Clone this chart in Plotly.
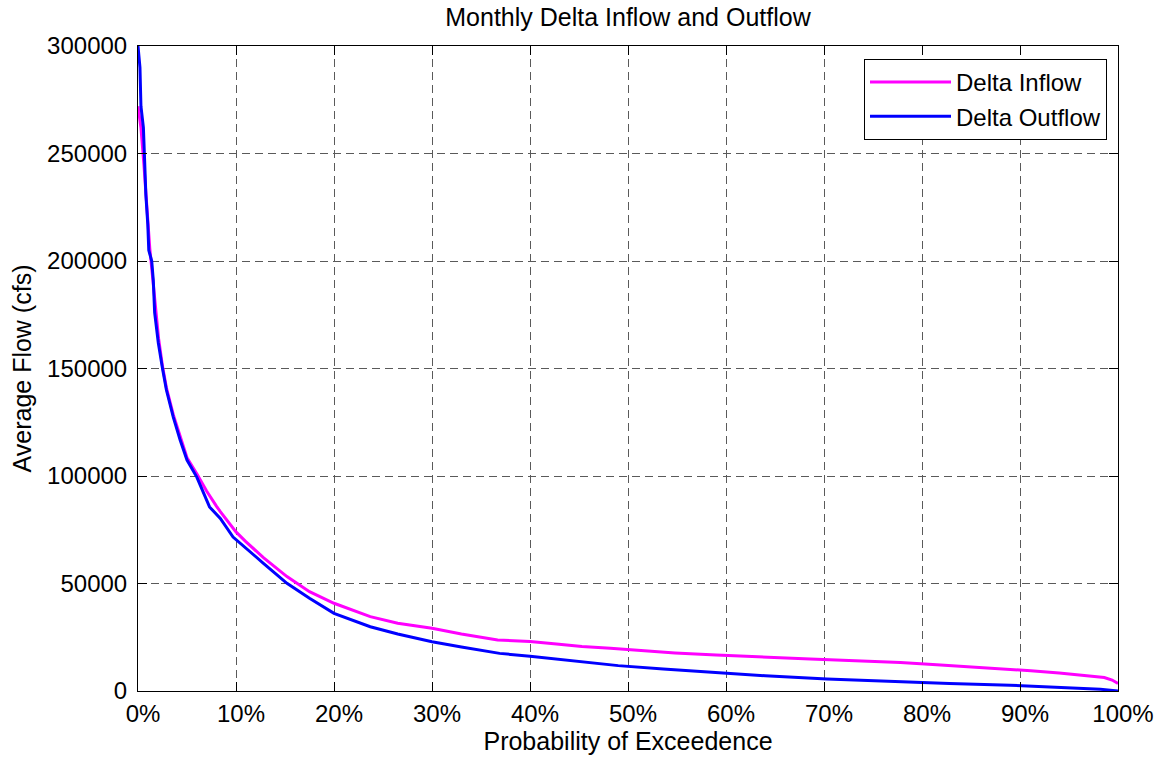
import plotly.graph_objects as go

# Probability of exceedence (%) and average flow (cfs)
inflow_pct = [0, 0.3, 0.6, 0.8, 1.0, 1.2, 1.5, 1.8, 2.1, 2.5, 2.9, 3.6, 4.3, 5.0, 6.0, 7.0,
              8.0, 8.4, 10, 11, 12.8, 15.2, 17.5, 20, 23.7, 26.5, 30, 33, 36.7, 40, 42.7,
              45.3, 48.2, 51.1, 54.8, 59, 63.6, 68.6, 73.2, 77.8, 81.5, 84.8, 88.2, 91.1,
              94, 96.5, 98.6, 99.4, 100]
inflow_cfs = [272000, 262000, 245000, 232000, 218000, 206000, 192000, 177000, 164000,
              151000, 141000, 128500, 118000, 108500, 101000, 93000, 86000, 83400, 74000,
              69500, 62000, 53200, 46200, 40800, 34600, 31500, 29200, 26500, 23700, 23000,
              21900, 20700, 19900, 18800, 17700, 16700, 15700, 14900, 14100, 13300, 12200,
              11300, 10500, 9400, 8400, 7400, 6300, 5100, 3500]

outflow_pct = [0, 0.2, 0.3, 0.55, 0.65, 0.8, 1.0, 1.1, 1.4, 1.56, 1.7, 2.07, 2.5, 2.9, 3.6,
               4.3, 5.0, 6.0, 7.3, 8.4, 9.7, 10.4, 11, 12.8, 15.2, 17.5, 20, 23.7, 26.5, 30,
               33, 36.9, 40, 42.7, 45.3, 49, 53.6, 58.6, 64, 70.3, 76.5, 82.8, 89, 95.2,
               98.2, 100]
outflow_cfs = [300000, 290000, 272000, 262000, 250000, 231000, 217000, 205000, 200000,
               191000, 176000, 162000, 150000, 140000, 127400, 116700, 107400, 99500,
               85600, 80300, 71600, 68800, 66500, 59400, 50100, 43100, 36100, 29900, 26500,
               22900, 20500, 17500, 16200, 14900, 13600, 11800, 10200, 8700, 7100, 5600,
               4400, 3500, 2700, 1600, 840, 0]

x_ticks = [0, 10, 20, 30, 40, 50, 60, 70, 80, 90, 100]
x_ticktext = [f"{v}%" for v in x_ticks]
y_ticks = [0, 50000, 100000, 150000, 200000, 250000, 300000]

FONT = "Liberation Sans, Arial, Helvetica, sans-serif"

fig = go.Figure()
fig.add_trace(go.Scatter(x=inflow_pct, y=inflow_cfs, mode="lines", name="Delta Inflow",
                         line=dict(color="#FF00FF", width=3)))
fig.add_trace(go.Scatter(x=outflow_pct, y=outflow_cfs, mode="lines", name="Delta Outflow",
                         line=dict(color="#0000FF", width=3)))

axis_common = dict(showline=True, linecolor="black", linewidth=1, mirror="allticks",
                   ticks="inside", ticklen=9, tickcolor="black", tickwidth=1,
                   showgrid=True, gridcolor="#5a5a5a", gridwidth=1, griddash="8px,5px",
                   zeroline=False, tickfont=dict(size=24, color="black", family=FONT))

fig.update_xaxes(range=[0, 100], tickvals=x_ticks, ticktext=x_ticktext,
                 ticklabelshift=5, ticklabelstandoff=1,
                 title=dict(text="Probability of Exceedence", standoff=5,
                            font=dict(size=25, color="black", family=FONT)),
                 **axis_common)
fig.update_yaxes(range=[0, 300000], tickvals=y_ticks, tickformat="d",
                 ticklabelstandoff=5,
                 title=dict(text="Average Flow (cfs)", standoff=8,
                            font=dict(size=25, color="black", family=FONT)),
                 **axis_common)

fig.update_layout(
    width=1155, height=759,
    margin=dict(l=138, r=37, t=46, b=68, autoexpand=False),
    paper_bgcolor="white", plot_bgcolor="white",
    font=dict(family=FONT, color="black", size=24),
    title=dict(text="Monthly Delta Inflow and Outflow", x=(138 + 1118) / 2 / 1155,
               xanchor="center", y=1 - 17 / 759, yanchor="middle",
               font=dict(size=25, color="black", family=FONT)),
    legend=dict(x=(1107 - 138) / (1118 - 138), xanchor="right",
                y=(691 - 59) / (691 - 46), yanchor="top",
                bordercolor="black", borderwidth=1, bgcolor="white",
                font=dict(size=24, color="black", family=FONT),
                itemwidth=81),
    showlegend=True,
)

# remove the page's default body margin so the figure sits at the window's corner
fig.write_html("out.html", config={"displayModeBar": False},
               post_script="document.body.style.margin='0';")
